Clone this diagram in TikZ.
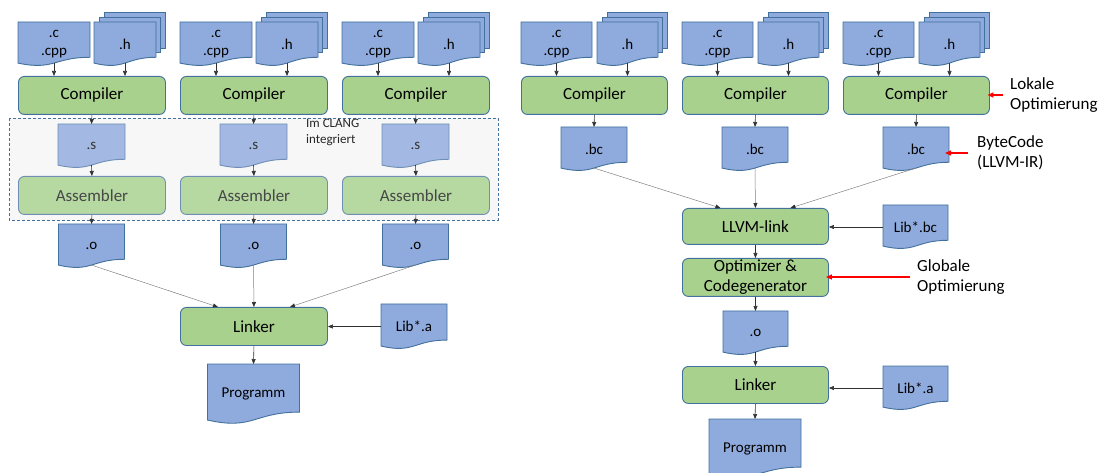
\documentclass[tikz,border=0pt]{standalone}
\usepackage{fontspec}
\setmainfont{Carlito}
\usetikzlibrary{arrows.meta,calc}
\definecolor{docfill}{HTML}{8FAADC}
\definecolor{docline}{HTML}{41719C}
\definecolor{boxfill}{HTML}{A9D18E}
\definecolor{boxline}{HTML}{41719C}
\definecolor{fadedoc}{HTML}{A3B8E2}
\definecolor{fadebox}{HTML}{B6D8A1}
\definecolor{fadeline}{HTML}{6F90B4}
\definecolor{arrowc}{HTML}{303030}
\definecolor{thinc}{HTML}{808080}
\definecolor{regionfill}{HTML}{F7F7F7}
\definecolor{redc}{HTML}{FF0000}

\makeatletter
\newdimen\wdxa \newdimen\wdxb \newdimen\wdxc
\newdimen\wdya \newdimen\wdyb \newdimen\wdyr \newdimen\wdyl \newdimen\wdyd \newdimen\wdh
\pgfdeclareshape{wavedoc}{%
  \inheritsavedanchors[from=rectangle]%
  \inheritanchorborder[from=rectangle]%
  \inheritanchor[from=rectangle]{center}%
  \inheritanchor[from=rectangle]{north}%
  \inheritanchor[from=rectangle]{north west}%
  \inheritanchor[from=rectangle]{north east}%
  \inheritanchor[from=rectangle]{east}%
  \inheritanchor[from=rectangle]{west}%
  \inheritanchor[from=rectangle]{south west}%
  \inheritanchor[from=rectangle]{south east}%
  \inheritanchor[from=rectangle]{base}%
  \anchor{south}{%
    \southwest \wdxa=\pgf@x \wdya=\pgf@y
    \northeast \wdxb=\pgf@x \wdyb=\pgf@y
    \wdh=\wdyb \advance\wdh by -\wdya
    \pgf@x=.5\wdxa \advance\pgf@x by .5\wdxb
    \pgf@y=.067\wdh \advance\pgf@y by \wdya
  }%
  \backgroundpath{%
    \southwest \wdxa=\pgf@x \wdya=\pgf@y
    \northeast \wdxb=\pgf@x \wdyb=\pgf@y
    \wdh=\wdyb \advance\wdh by -\wdya
    \wdxc=.5\wdxa \advance\wdxc by .5\wdxb
    \wdyr=.198\wdh \advance\wdyr by \wdya
    \wdyl=.066\wdh \advance\wdyl by \wdya
    \wdyd=-.1075\wdh \advance\wdyd by \wdya
    \pgfpathmoveto{\pgfqpoint{\wdxa}{\wdyb}}%
    \pgfpathlineto{\pgfqpoint{\wdxb}{\wdyb}}%
    \pgfpathlineto{\pgfqpoint{\wdxb}{\wdyr}}%
    \pgfpathcurveto{\pgfqpoint{\wdxc}{\wdyr}}{\pgfqpoint{\wdxc}{\wdyd}}{\pgfqpoint{\wdxa}{\wdyl}}%
    \pgfpathclose
  }%
}
\makeatother

\tikzset{
  doc/.style={shape=wavedoc, draw=docline, fill=docfill, line width=0.9pt,
    inner sep=0pt, outer sep=0pt, align=center, text=black,
    font=\fontsize{15}{18}\selectfont},
  fdoc/.style={doc, fill=fadedoc, draw=fadeline, text=black!80},
  backdoc/.style={draw=docline, fill=docfill, line width=0.9pt},
  box/.style={draw=boxline, fill=boxfill, rounded corners=6pt, line width=0.9pt,
    minimum width=147pt, minimum height=38pt, inner sep=0pt, align=center,
    anchor=north west, text=black, font=\fontsize{17}{20}\selectfont},
  fbox/.style={box, fill=fadebox, draw=fadeline, text=black!72},
  lbl/.style={align=left, inner sep=3pt, anchor=west, text=black,
    font=\fontsize{17}{20}\selectfont},
  arr/.style={draw=arrowc, line width=0.6pt, -{Triangle[length=5pt,width=4pt]}},
  thin/.style={draw=thinc, line width=0.5pt, -{Triangle[length=5pt,width=4pt,color=arrowc]}},
  redarr/.style={draw=redc, line width=1.3pt, -{Triangle[length=6pt,width=5pt]}},
}

\begin{document}
\begin{tikzpicture}[x=1pt, y=-1pt]
\useasboundingbox (0,0) rectangle (1104,473);

% ---------- region behind the left .s / Assembler ----------
\draw[draw=boxline, fill=regionfill, line width=0.8pt, dash pattern=on 3pt off 2pt]
  (9,118) rectangle (498,220);
\node[anchor=north west, align=left, inner sep=0pt, text=black!85,
  font=\fontsize{13}{16}\selectfont] (clang) at (306,119) {Im CLANG\\integriert};

% ---------- left: three columns ----------
\foreach \xl/\nm in {18/a,180/b,342/c}{
  \node[doc, anchor=north west, minimum width=72pt, minimum height=44pt] (lcc\nm) at (\xl,22) {.c\\.cpp};
  \draw[backdoc] ({\xl+86},12) rectangle ({\xl+147},48);
  \draw[backdoc] ({\xl+81},17) rectangle ({\xl+142},52);
  \node[doc, anchor=north west, minimum width=62pt, minimum height=44pt] (lhh\nm) at ({\xl+76},22) {.h};
  \node[box] (lcomp\nm) at (\xl,76) {Compiler};
  \node[fdoc, anchor=north, minimum width=67pt, minimum height=44pt] (ls\nm) at ({\xl+73.5},124) {.s};
  \node[fbox] (lasm\nm) at (\xl,176) {Assembler};
  \node[doc, anchor=north, minimum width=66pt, minimum height=44pt] (lo\nm) at ({\xl+73.5},224) {.o};
  \draw[arr] (lcc\nm.south) -- (lcc\nm.south |- lcomp\nm.north);
  \draw[arr] (lhh\nm.south) -- (lhh\nm.south |- lcomp\nm.north);
  \draw[arr] (lcomp\nm.south) -- (ls\nm.north);
  \draw[arr] (ls\nm.south) -- (lasm\nm.north);
  \draw[arr] (lasm\nm.south) -- (lo\nm.north);
}

\node[box] (llink) at (180,307) {Linker};
\node[doc, anchor=north west, minimum width=66pt, minimum height=45pt] (llib) at (381,304) {Lib*.a};
\node[doc, anchor=north, minimum width=92pt, minimum height=60pt] (lprog) at (253.5,364) {Programm};

\draw[thin] (loa.south) -- ([xshift=-36pt]llink.north);
\draw[thin] (lob.south) -- (llink.north);
\draw[thin] (loc.south) -- ([xshift=36pt]llink.north);
\draw[arr] (llib.west) -- (llib.west -| llink.east);
\draw[arr] (llink.south) -- (lprog.north);

% ---------- right: three columns ----------
\foreach \xl/\nm in {521/a,682/b,843/c}{
  \node[doc, anchor=north west, minimum width=71pt, minimum height=44pt] (rcc\nm) at (\xl,22) {.c\\.cpp};
  \draw[backdoc] ({\xl+86},12) rectangle ({\xl+146},48);
  \draw[backdoc] ({\xl+81},17) rectangle ({\xl+141},52);
  \node[doc, anchor=north west, minimum width=61pt, minimum height=44pt] (rhh\nm) at ({\xl+76},22) {.h};
  \node[box, minimum width=146pt] (rcomp\nm) at (\xl,76) {Compiler};
  \node[doc, anchor=north, minimum width=66pt, minimum height=44pt] (rbc\nm) at ({\xl+73},127) {.bc};
  \draw[arr] (rcc\nm.south) -- (rcc\nm.south |- rcomp\nm.north);
  \draw[arr] (rhh\nm.south) -- (rhh\nm.south |- rcomp\nm.north);
  \draw[arr] (rcomp\nm.south) -- (rbc\nm.north);
}

\node[box, minimum width=146pt, minimum height=36pt] (rlink) at (682,208) {LLVM-link};
\node[doc, anchor=north west, minimum width=65pt, minimum height=44pt] (rlibbc) at (883,205) {Lib*.bc};
\node[box, minimum width=146pt, minimum height=38pt] (ropt) at (682,258) {Optimizer \&\\Codegenerator};
\node[doc, anchor=north, minimum width=65pt, minimum height=44pt] (ro) at (755.5,311) {.o};
\node[box, minimum width=146pt, minimum height=37pt] (rlinker) at (682,366) {Linker};
\node[doc, anchor=north west, minimum width=65pt, minimum height=44pt] (rliba) at (883,366) {Lib*.a};
\node[doc, anchor=north, minimum width=92pt, minimum height=60pt] (rprog) at (755,419) {Programm};

\draw[thin] (rbca.south) -- ([xshift=-35pt]rlink.north);
\draw[thin] (rbcb.south) -- (rlink.north);
\draw[thin] (rbcc.south) -- ([xshift=35pt]rlink.north);
\draw[arr] (rlibbc.west) -- (rlibbc.west -| rlink.east);
\draw[arr] (rlink.south) -- (ropt.north);
\draw[arr] (ropt.south) -- (ro.north);
\draw[arr] (ro.south) -- (rlinker.north);
\draw[arr] (rliba.west) -- (rliba.west -| rlinker.east);
\draw[arr] (rlinker.south) -- (rprog.north);

% ---------- annotations ----------
\node[lbl] (lokal) at (1007,95) {Lokale\\Optimierung};
\node[lbl] (bytec) at (974,153) {ByteCode\\(LLVM-IR)};
\node[lbl] (global) at (914,277) {Globale\\Optimierung};
\draw[redarr, shorten >=1.5pt] ([xshift=-4pt]lokal.west) -- ([xshift=-4pt]lokal.west -| rcompc.east);
\draw[redarr, shorten >=2pt] ([xshift=-6pt]bytec.west) -- ([xshift=-6pt]bytec.west -| rbcc.east);
\draw[redarr, shorten >=1pt] ([xshift=-4pt]global.west) -- ([xshift=-4pt]global.west -| ropt.east);
\end{tikzpicture}
\end{document}
